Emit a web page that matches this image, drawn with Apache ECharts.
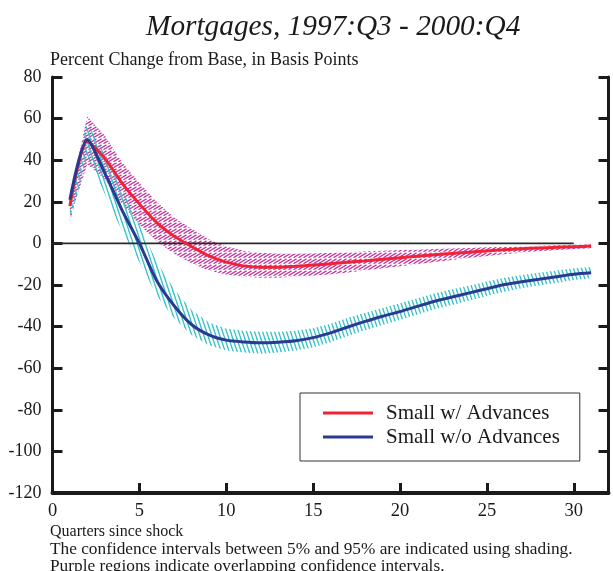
<!DOCTYPE html>
<html><head><meta charset="utf-8">
<script src="https://cdn.jsdelivr.net/npm/echarts@6/dist/echarts.min.js"></script>
<style>html,body{margin:0;padding:0;background:#fff}#c{width:613px;height:571px}</style>
</head><body><div id="c"></div>
<script>
// ---- data ----
const quarters = [1,2,3,4,5,6,7,8,9,10,11,12,13,14,15,16,17,18,19,20,21,22,23,24,25,26,27,28,29,30,31];
const smallWithAdv = [18, 49, 41, 29, 19, 10, 3.5, -1.5, -6, -9, -10.8, -11.5, -11.5, -11, -10.4, -9.8, -9.1, -8.4, -7.6, -6.9, -6.2, -5.5, -4.8, -4.2, -3.6, -3.1, -2.6, -2.2, -1.9, -1.6, -1.3];
const smallWithAdvUpper = [23, 61, 52, 39, 29, 20, 12.5, 7, 2, -1.5, -3.5, -4.5, -5, -5, -4.8, -4.5, -4.2, -3.8, -3.5, -3.2, -3, -2.7, -2.4, -2.2, -1.9, -1.7, -1.4, -1.1, -0.9, -0.7, -0.5];
const smallWithAdvLower = [12, 38, 31, 19, 9, 1, -5, -9.5, -13, -15, -16, -16.5, -16.5, -16, -15.5, -14.8, -14, -13, -12, -11, -10, -9, -8, -7, -6, -5.2, -4.5, -3.8, -3.2, -2.7, -2.3];
const smallWithoutAdv = [21, 50, 34, 16, 0, -18, -30, -39, -44, -46.5, -47.4, -47.8, -47.5, -46.8, -45.3, -43, -40.2, -37.5, -35, -32.8, -30.3, -27.8, -25.8, -23.8, -21.8, -19.8, -18.4, -17.2, -16, -14.8, -14.1];
const smallWithoutAdvUpper = [25, 58, 43, 26, 9, -9, -22, -32, -38, -41, -42, -42.5, -42.5, -42, -40.8, -38.6, -35.8, -33.4, -31, -28.8, -26.4, -24, -22, -20.2, -18.3, -16.5, -15.2, -14.1, -13, -12, -11.4];
const smallWithoutAdvLower = [10, 42, 24, 6, -9, -25, -36, -44, -49, -51.5, -52.5, -53, -52.5, -51.5, -50, -47.5, -44.5, -41.8, -39.2, -36.8, -34.2, -31.6, -29.6, -27.4, -25.3, -23.2, -21.6, -20.3, -19, -17.6, -16.8];
const zeroLineX = [0, 30];
const seriesNames = ['Small w/ Advances', 'Small w/o Advances'];
const xTickLabels = ['0','5','10','15','20','25','30'];
const yTickLabels = ['-120','-100','-80','-60','-40','-20','0','20','40','60','80'];

// ---- hatch patterns ----
function hatchCanvas(w, h, color, lw, segs) {
  const c = document.createElement('canvas');
  c.width = w; c.height = h;
  const ctx = c.getContext('2d');
  ctx.strokeStyle = color; ctx.lineWidth = lw; ctx.lineCap = 'butt';
  for (const dx of [-w, 0, w]) for (const dy of [-h, 0, h]) {
    for (const s of segs) {
      ctx.beginPath(); ctx.moveTo(s[0]+dx, s[1]+dy); ctx.lineTo(s[2]+dx, s[3]+dy); ctx.stroke();
    }
  }
  return c;
}
const magentaHatch = hatchCanvas(5, 6, '#c42f9e', 1.25, [[-1.5, 5.7, 6.5, 0.9]]);
const cyanHatch = hatchCanvas(4, 12, '#3cc2c6', 1.35, [[0, 0, 4, 12]]);

function bandSeries(name, upper, lower, pattern, z) {
  const data = quarters.map((q, i) => [q, lower[i], upper[i]]);
  return {
    type: 'custom', name: name, silent: true, z: z,
    data: data,
    encode: { x: 0, y: [1, 2] },
    renderItem: function (params, api) {
      if (params.dataIndex !== 0) return null;
      const pts = [];
      for (let i = 0; i < quarters.length; i++) pts.push(api.coord([quarters[i], upper[i]]));
      for (let i = quarters.length - 1; i >= 0; i--) pts.push(api.coord([quarters[i], lower[i]]));
      return { type: 'polygon', shape: { points: pts }, style: { fill: { image: pattern, repeat: 'repeat' }, stroke: null } };
    }
  };
}

const serif = 'Liberation Serif, Times New Roman, serif';
const chart = echarts.init(document.getElementById('c'), null, { renderer: 'canvas' });
chart.setOption({
  animation: false,
  backgroundColor: '#fff',
  title: [
    { text: 'Mortgages, 1997:Q3 - 2000:Q4', left: 146, top: 13, padding: 0,
      textStyle: { fontFamily: serif, fontStyle: 'italic', fontWeight: 'normal', fontSize: 29.3, color: '#1a1a1a' } },
    { text: 'Percent Change from Base, in Basis Points', left: 50, top: 51, padding: 0,
      textStyle: { fontFamily: serif, fontWeight: 'normal', fontSize: 18, color: '#1a1a1a' } },
    { text: 'Quarters since shock', left: 50, top: 524, padding: 0,
      textStyle: { fontFamily: serif, fontWeight: 'normal', fontSize: 16, color: '#1a1a1a' } },
    { text: 'The confidence intervals between 5% and 95% are indicated using shading.\nPurple regions indicate overlapping confidence intervals.', left: 50, top: 541, padding: 0,
      textStyle: { fontFamily: serif, fontWeight: 'normal', fontSize: 17.3, lineHeight: 17, color: '#1a1a1a' } }
  ],
  legend: {
    orient: 'vertical', left: 300, top: 393,
    data: seriesNames,
    icon: 'rect', itemWidth: 50, itemHeight: 3, itemGap: 2,
    padding: [9, 20, 13, 23],
    borderColor: '#333', borderWidth: 1, backgroundColor: '#fff',
    textStyle: { fontFamily: serif, fontSize: 21, lineHeight: 22, color: '#1a1a1a', padding: [0, 0, 0, 8] }
  },
  grid: { left: 52.5, right: 4.5, top: 77, bottom: 78, containLabel: false },
  xAxis: {
    type: 'value', min: 0, max: 32, interval: 5,
    axisLine: { show: true, onZero: false, lineStyle: { color: '#1a1a1a', width: 4 } },
    axisTick: { show: true, inside: true, length: 10, lineStyle: { color: '#1a1a1a', width: 3 } },
    axisLabel: { margin: 9, fontFamily: serif, fontSize: 18.5, color: '#1a1a1a',
      formatter: v => (xTickLabels.indexOf(String(v)) >= 0 ? String(v) : '') },
    splitLine: { show: false }
  },
  yAxis: [
    { type: 'value', min: -120, max: 80, interval: 20, position: 'left',
      axisLine: { show: true, onZero: false, lineStyle: { color: '#1a1a1a', width: 3 } },
      axisTick: { show: true, inside: true, length: 10, lineStyle: { color: '#1a1a1a', width: 3 } },
      axisLabel: { margin: 11, fontFamily: serif, fontSize: 18, color: '#1a1a1a',
        formatter: v => (yTickLabels.indexOf(String(v)) >= 0 ? String(v) : '') },
      splitLine: { show: false } },
    { type: 'value', min: -120, max: 80, interval: 20, position: 'right',
      axisLine: { show: true, onZero: false, lineStyle: { color: '#1a1a1a', width: 3 } },
      axisTick: { show: true, inside: true, length: 10, lineStyle: { color: '#1a1a1a', width: 3 } },
      axisLabel: { show: false }, splitLine: { show: false } }
  ],
  series: [
    bandSeries('band w/ Advances', smallWithAdvUpper, smallWithAdvLower, magentaHatch, 1),
    bandSeries('band w/o Advances', smallWithoutAdvUpper, smallWithoutAdvLower, cyanHatch, 2),
    { type: 'line', name: 'zero', silent: true, z: 3, symbol: 'none',
      data: zeroLineX.map(x => [x, 0]), lineStyle: { color: '#2a2a2a', width: 1.6 } },
    { type: 'line', name: seriesNames[0], z: 4, symbol: 'none', smooth: 0.25,
      data: quarters.map((q, i) => [q, smallWithAdv[i]]),
      itemStyle: { color: '#ee2436' }, lineStyle: { color: '#ee2436', width: 3 } },
    { type: 'line', name: seriesNames[1], z: 5, symbol: 'none', smooth: 0.25,
      data: quarters.map((q, i) => [q, smallWithoutAdv[i]]),
      itemStyle: { color: '#2b3990' }, lineStyle: { color: '#2b3990', width: 3 } }
  ]
});
</script></body></html>
